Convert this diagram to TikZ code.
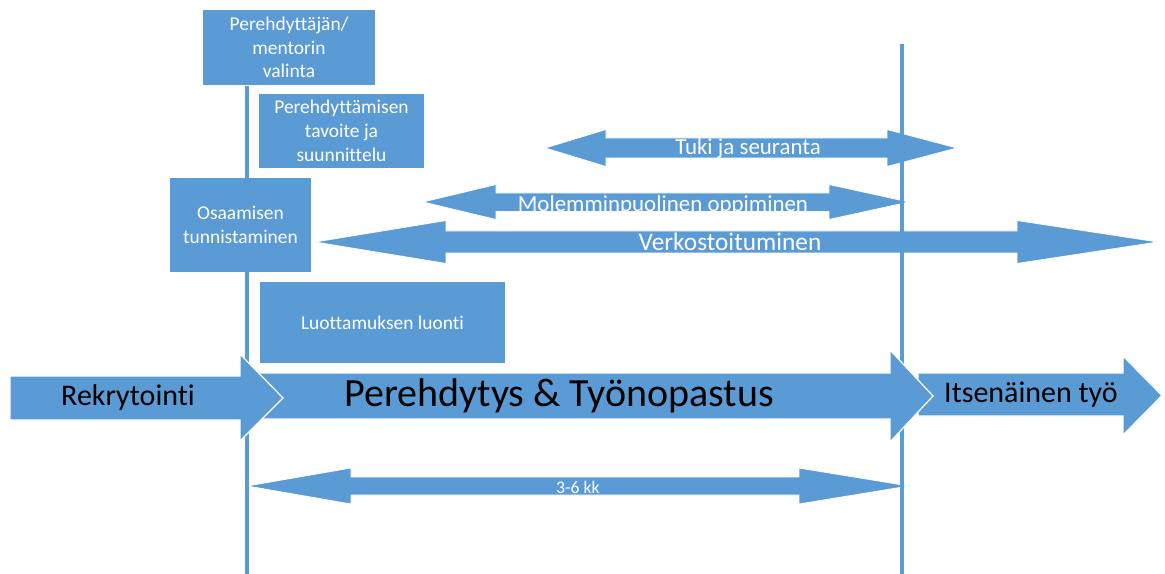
\documentclass[tikz,border=0pt]{standalone}
\usepackage{fontspec}
\setmainfont{Carlito}[Ligatures=CommonOff]
\definecolor{obl}{HTML}{5B9BD5}
\tikzset{
  box/.style={fill=obl, draw=none, text=white, align=center, inner sep=0pt,
    font=\fontsize{14.6}{17.8}\selectfont},
  shape arrow/.style={fill=obl, draw=white, line width=0.9pt, line join=miter},
  dbl/.style={fill=obl, draw=white, line width=0.6pt},
  arrlabel/.style={text=white, inner sep=0pt},
  biglabel/.style={text=black, inner sep=0pt},
  vline/.style={draw=obl, line width=2.3pt}
}
\begin{document}
\begin{tikzpicture}[x=0.75pt,y=-0.75pt]
\useasboundingbox (0,0) rectangle (1165,574);

% double arrows
\path[dbl] (545,148) -- (606,129.5) -- (606,138) -- (887,138) -- (887,129.5) -- (957,148)
  -- (887,166.5) -- (887,158) -- (606,158) -- (606,166.5) -- cycle;
\path[dbl] (423,202) -- (496,184.5) -- (496,193) -- (829,193) -- (829,184.5) -- (909,202)
  -- (829,219.5) -- (829,211.5) -- (496,211.5) -- (496,219.5) -- cycle;
\path[dbl] (315,242) -- (446,220.5) -- (446,231) -- (1017,231) -- (1017,220.5) -- (1158,242)
  -- (1017,263.5) -- (1017,253) -- (446,253) -- (446,263.5) -- cycle;
\path[dbl] (247,486) -- (351,468) -- (351,477) -- (799,477) -- (799,468) -- (909,486)
  -- (799,504) -- (799,495) -- (351,495) -- (351,504) -- cycle;

% time lines
\coordinate (l1) at (247,86);
\coordinate (l2) at (247,574);
\coordinate (r1) at (902,44);
\coordinate (r2) at (902,574);
\draw[vline] (l1) -- (l2);
\draw[vline] (r1) -- (r2);

% labels of double arrows
\node[arrlabel, font=\fontsize{17.2}{20}\selectfont] (tuki) at (748,149) {Tuki ja seuranta};
\node[arrlabel, font=\fontsize{17.2}{20}\selectfont] (molemmin) at (663,205) {Molemminpuolinen oppiminen};
\node[arrlabel, font=\fontsize{19}{22}\selectfont] (verkosto) at (730,242) {Verkostoituminen};
\node[arrlabel, font=\fontsize{13.3}{15}\selectfont] (kesto) at (578,487) {3-6 kk};

% boxes
\node[box, minimum width=172*0.75pt, minimum height=75*0.75pt] (valinta) at (289,47.5) {Perehdyttäjän/\\mentorin\\valinta};
\node[box, minimum width=165*0.75pt, minimum height=74*0.75pt] (tavoite) at (341.5,131) {Perehdyttämisen\\tavoite ja\\suunnittelu};
\node[box, minimum width=141*0.75pt, minimum height=94*0.75pt] (osaaminen) at (240.5,225) {Osaamisen\\tunnistaminen};
\node[box, minimum width=245*0.75pt, minimum height=81*0.75pt] (luottamus) at (382.5,322.5) {Luottamuksen luonti};

% main process arrows
\path[shape arrow] (918,373) -- (1123,373) -- (1123,356) -- (1162,395.5) -- (1123,435) -- (1123,416) -- (918,416) -- cycle;
\node[biglabel, font=\fontsize{22.5}{26}\selectfont] (itse) at (1031,395) {Itsenäinen työ};

\path[shape arrow] (250,373) -- (890,373) -- (890,350) -- (933,396) -- (890,442) -- (890,419) -- (250,419) -- cycle;
\node[biglabel, font=\fontsize{30}{34}\selectfont] (pereh) at (559,396) {Perehdytys \& Työnopastus};

\path[shape arrow] (10,376) -- (240,376) -- (240,354) -- (283,398) -- (240,441) -- (240,420) -- (10,420) -- cycle;
\node[biglabel, font=\fontsize{22.5}{26}\selectfont] (rekry) at (128,398) {Rekrytointi};
\end{tikzpicture}
\end{document}
